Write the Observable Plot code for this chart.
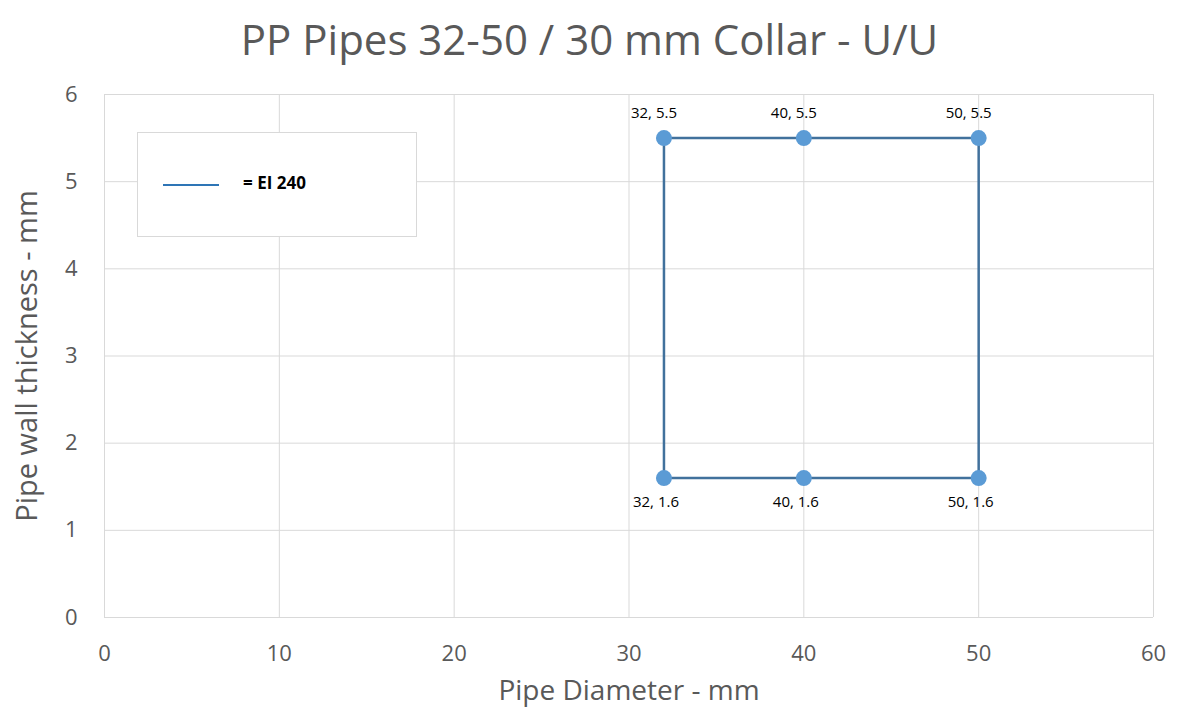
<!DOCTYPE html>
<html><head><meta charset="utf-8">
<script src="https://cdn.jsdelivr.net/npm/d3@7"></script>
<script src="https://cdn.jsdelivr.net/npm/@observablehq/plot@0.6"></script>
<style>
body{margin:0;background:#fff;font-family:"Open Sans",sans-serif;}
#wrap{position:relative;width:1179px;height:718px;overflow:hidden;}
#title{height:75px;line-height:78px;text-align:center;font-size:42px;color:#595959;white-space:nowrap;}
#legend{position:absolute;left:137px;top:132px;width:280px;height:105px;border:1px solid #d9d9d9;background:#fff;box-sizing:border-box;}
#legend .ln{position:absolute;left:25px;top:51px;width:56px;height:2px;background:#2e75b6;}
#legend .tx{position:absolute;left:105px;top:39px;font-size:17px;font-weight:bold;color:#000;line-height:22px;}
svg{display:block;}
</style></head>
<body>
<div id="wrap">
<div id="title"></div>
<div id="chart"></div>
<div id="legend"><div class="ln"></div><div class="tx"></div></div>
</div>
<script>
const titleText = "PP Pipes 32-50 / 30 mm Collar - U/U";
const seriesName = "EI 240";
const xLabel = "Pipe Diameter - mm";
const yLabel = "Pipe wall thickness - mm";
const xTicks = [0, 10, 20, 30, 40, 50, 60];
const yTicks = [0, 1, 2, 3, 4, 5, 6];
// outline path (closed rectangle)
const pathX = [32, 40, 50, 50, 40, 32, 32];
const pathY = [5.5, 5.5, 5.5, 1.6, 1.6, 1.6, 5.5];
// data points
const pointX = [32, 40, 50, 32, 40, 50];
const pointY = [5.5, 5.5, 5.5, 1.6, 1.6, 1.6];
const pointPos = ["top", "top", "top", "bottom", "bottom", "bottom"];

document.getElementById("title").textContent = titleText;
document.querySelector("#legend .tx").textContent = "= " + seriesName;

const path = pathX.map((x, i) => ({x, y: pathY[i]}));
const pts = pointX.map((x, i) => ({x, y: pointY[i], pos: pointPos[i], label: `${x}, ${pointY[i]}`}));

const grid = "#d9d9d9", tickColor = "#595959";
const chart = Plot.plot({
  width: 1179,
  height: 643,
  marginLeft: 104,
  marginRight: 26,
  marginTop: 19,
  marginBottom: 101,
  style: {fontFamily: "'Open Sans', sans-serif", background: "#fff", overflow: "visible"},
  x: {domain: [0, 60]},
  y: {domain: [0, 6]},
  marks: [
    Plot.gridX(xTicks, {stroke: grid, strokeOpacity: 1}),
    Plot.gridY(yTicks, {stroke: grid, strokeOpacity: 1}),
    Plot.axisX(xTicks, {tickSize: 0, tickPadding: 28, fontSize: 22, fill: tickColor, label: null, tickFormat: d3.format("d")}),
    Plot.axisY(yTicks, {tickSize: 0, tickPadding: 27, fontSize: 22, fill: tickColor, label: null, tickFormat: d3.format("d")}),
    Plot.text([xLabel], {frameAnchor: "bottom", dy: 82, fontSize: 28, fill: tickColor}),
    Plot.text([yLabel], {frameAnchor: "left", dx: -77, rotate: -90, textAnchor: "middle", fontSize: 29, fill: tickColor}),
    Plot.line(path, {x: "x", y: "y", stroke: "#41719c", strokeWidth: 2.5}),
    Plot.dot(pts, {x: "x", y: "y", r: 8, fill: "#5b9bd5", stroke: "none"}),
    Plot.text(pts.filter(d => d.pos === "top"), {x: "x", y: "y", text: "label", dy: -25, dx: -10, fontSize: 15, fill: "#000"}),
    Plot.text(pts.filter(d => d.pos === "bottom"), {x: "x", y: "y", text: "label", dy: 24, dx: -8, fontSize: 15, fill: "#000"})
  ]
});
document.getElementById("chart").appendChild(chart);
</script>
</body></html>
